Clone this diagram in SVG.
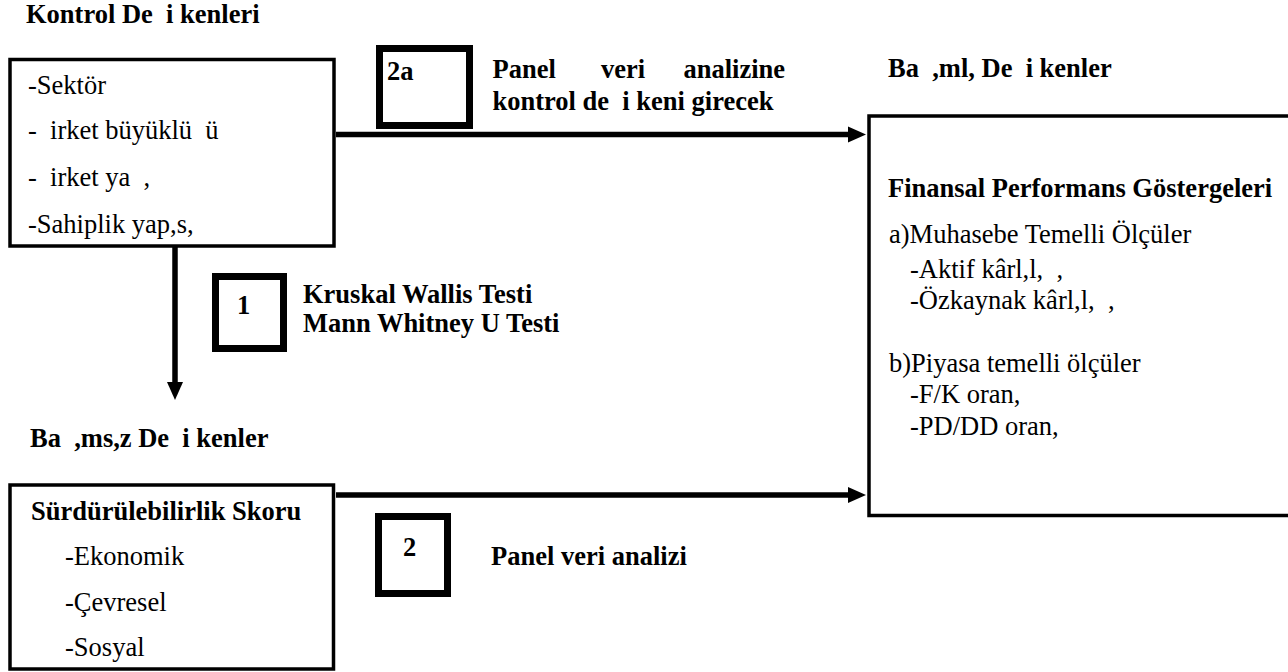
<svg xmlns="http://www.w3.org/2000/svg" width="1288" height="672" viewBox="0 0 1288 672">
<style>
text{font-family:'Liberation Serif','Times New Roman',Tinos,'DejaVu Serif',serif;font-size:26.5px;fill:#000;white-space:pre}
.b{font-weight:bold}
.box{fill:#fff;stroke:#000;stroke-width:3.5}
.tag{fill:#fff;stroke:#000;stroke-width:7}
.conn{stroke:#000;stroke-width:5.5;fill:none}
</style>
<defs>
<marker id="ah" markerUnits="userSpaceOnUse" markerWidth="18" markerHeight="18" refX="8" refY="8" orient="auto" viewBox="0 0 18 16">
<path d="M0,0 L18,8 L0,16 Z" fill="#000"/>
</marker>
</defs>
<rect width="1288" height="672" fill="#fff"/>

<g id="titles">
<text class="b" x="26" y="23">Kontrol De  i kenleri</text>
<text class="b" x="888" y="77">Ba  ,ml, De  i kenler</text>
<text class="b" x="30" y="447">Ba  ,ms,z De  i kenler</text>
</g>

<g id="connectors">
<line class="conn" x1="336" y1="134.5" x2="856" y2="134.5" marker-end="url(#ah)"/>
<line class="conn" x1="336" y1="495" x2="856" y2="495" marker-end="url(#ah)"/>
<line class="conn" x1="175" y1="247" x2="175" y2="390" marker-end="url(#ah)"/>
</g>

<g id="control-vars">
<rect class="box" x="10" y="59.5" width="324" height="186.5"/>
<text x="28" y="94">-Sektör</text>
<text x="28" y="139">-  irket büyüklü  ü</text>
<text x="28" y="186">-  irket ya  ,</text>
<text x="28" y="233">-Sahiplik yap,s,</text>
</g>

<g id="independent-vars">
<rect class="box" x="10" y="485" width="323.5" height="184"/>
<text class="b" x="31" y="520">Sürdürülebilirlik Skoru</text>
<text x="65" y="565">-Ekonomik</text>
<text x="65" y="611">-Çevresel</text>
<text x="65" y="656">-Sosyal</text>
</g>

<g id="dependent-vars">
<rect class="box" x="869" y="116" width="440" height="399.5"/>
<text class="b" x="888" y="197">Finansal Performans Göstergeleri</text>
<text x="889" y="243">a)Muhasebe Temelli Ölçüler</text>
<text x="910" y="278">-Aktif kârl,l,  ,</text>
<text x="910" y="309">-Özkaynak kârl,l,  ,</text>
<text x="889" y="372">b)Piyasa temelli ölçüler</text>
<text x="910" y="403">-F/K oran,</text>
<text x="910" y="435">-PD/DD oran,</text>
</g>

<g id="step-2a">
<rect class="tag" x="379.5" y="48.5" width="90" height="77"/>
<text class="b" x="387" y="80">2a</text>
<text class="b" x="492.5" y="77.5">Panel</text>
<text class="b" x="601" y="77.5">veri</text>
<text class="b" x="683.5" y="77.5">analizine</text>
<text class="b" x="492.5" y="109.5">kontrol de  i keni girecek</text>
</g>

<g id="step-1">
<rect class="tag" x="215.5" y="276.5" width="68" height="72"/>
<text class="b" x="237" y="314">1</text>
<text class="b" x="303" y="303">Kruskal Wallis Testi</text>
<text class="b" x="303" y="332">Mann Whitney U Testi</text>
</g>

<g id="step-2">
<rect class="tag" x="378.5" y="516.5" width="69" height="77"/>
<text class="b" x="403" y="556">2</text>
<text class="b" x="491" y="565">Panel veri analizi</text>
</g>
</svg>
